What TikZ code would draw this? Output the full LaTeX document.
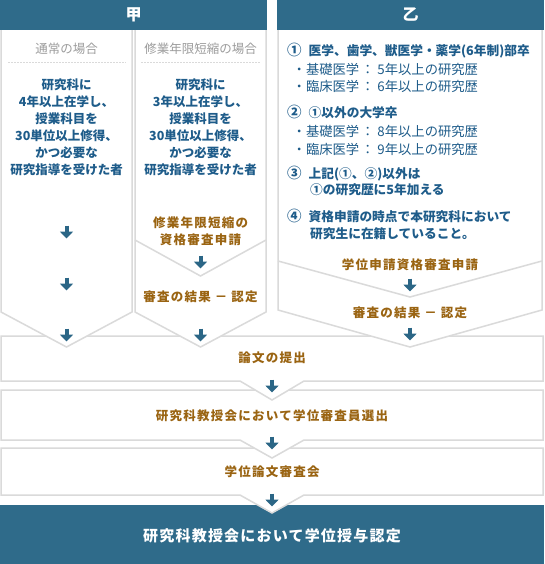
\documentclass[tikz,border=0pt]{standalone}
\usepackage{fontspec}
\setmainfont{Noto Sans CJK JP}
\newfontfamily\jpsp[LetterSpace=10]{Noto Sans CJK JP}
\newfontfamily\jpfin[LetterSpace=8]{Noto Sans CJK JP}
\usetikzlibrary{arrows.meta}
\definecolor{hdrteal}{HTML}{2F6B8A}
\definecolor{arrowteal}{HTML}{2B6686}
\definecolor{textblue}{HTML}{1E5C8A}
\definecolor{textbrown}{HTML}{9A6412}
\definecolor{bordergray}{HTML}{DADADA}
\definecolor{subgray}{HTML}{9C9C9C}
\newcommand\flowarr[3]{%
  \coordinate (#1s) at (#2,#3-6.5);
  \coordinate (#1e) at (#2,#3+6.5);
  \draw[flowarrow] (#1s) -- (#1e);}
\newcommand\circnum[1]{{\fontsize{14.5}{15}\selectfont #1}\hspace{7pt}}
\tikzset{
  panel/.style={fill=white, draw=bordergray, line width=1.5pt, line join=miter},
  innerline/.style={draw=bordergray, line width=1.5pt},
  subdash/.style={draw=bordergray, line width=0.8pt, dash pattern=on 1.5pt off 1.5pt},
  flowarrow/.style={draw=arrowteal, line width=4pt, -{Triangle[width=13pt,length=7pt]}},
  hdrtxt/.style={text=white, font=\fontsize{16}{18}\selectfont\bfseries},
  subtxt/.style={text=subgray, font=\fontsize{12.5}{15}\selectfont},
  bluetxt/.style={text=textblue, align=center, inner sep=0pt, font=\fontsize{12.5}{17}\selectfont\bfseries},
  headtxt/.style={text=textblue, inner sep=0pt, anchor=base west, font=\fontsize{12.7}{15}\selectfont\bfseries},
  bultxt/.style={text=textblue, inner sep=0pt, anchor=base west, font=\fontsize{13.3}{15}\selectfont},
  browntxt/.style={text=textbrown, align=center, inner sep=0pt, font=\jpsp\fontsize{12.5}{17}\selectfont\bfseries},
  fintxt/.style={text=white, inner sep=0pt, font=\jpfin\fontsize{15}{17}\selectfont\bfseries},
}
\begin{document}
\begin{tikzpicture}[x=1pt,y=-1pt]
\useasboundingbox (0,0) rectangle (544,564);
\fill[white] (0,0) rectangle (544,564);
% final box
\fill[hdrteal] (0,505) rectangle (544,564);
% stacked boxes (bottom to top)
\path[panel] (1,448) -- (543,448) -- (543,495) -- (304,495) -- (272,513) -- (240,495) -- (1,495) -- cycle;
\path[panel] (1,390) -- (543,390) -- (543,440) -- (304,440) -- (272,458) -- (240,440) -- (1,440) -- cycle;
\path[panel] (1,336) -- (543,336) -- (543,381) -- (304,381) -- (272,400) -- (240,381) -- (1,381) -- cycle;
% columns
\path[panel] (1,29) -- (1,312) -- (66.5,347) -- (132,312) -- (132,29);
\path[panel] (135,29) -- (135,312) -- (200.5,347) -- (266,312) -- (266,29);
\path[innerline] (135,240) -- (200.5,276) -- (266,240);
\path[panel] (278,29) -- (278,310) -- (410,347) -- (542,310) -- (542,29);
\path[innerline] (278,261) -- (410,297) -- (542,261);
% headers
\fill[hdrteal] (0,0) rectangle (267,30);
\fill[hdrteal] (277,0) rectangle (544,30);
\node[hdrtxt] (hko) at (133.5,15) {甲};
\node[hdrtxt] (hotsu) at (410.5,15) {乙};
% sub headers
\node[subtxt] (sub1) at (66.5,49) {通常の場合};
\node[subtxt] (sub2) at (200.5,49) {修業年限短縮の場合};
\draw[subdash] (8,62) -- (126,62);
\draw[subdash] (141,62) -- (261,62);
% column texts
\node[bluetxt] (c1) at (66.5,127.5) {研究科に\\4年以上在学し、\\授業科目を\\30単位以上修得、\\かつ必要な\\研究指導を受けた者};
\node[bluetxt] (c2) at (200.5,127.5) {研究科に\\3年以上在学し、\\授業科目を\\30単位以上修得、\\かつ必要な\\研究指導を受けた者};
\node[browntxt] (c2a) at (200.5,231.5) {修業年限短縮の\\資格審査申請};
\node[browntxt] (c2b) at (200.5,297) {審査の結果 － 認定};
% right column texts (baseline = visual centre + 0.38em)
\node[headtxt] (r1a) at (287,55.8) {\circnum{①}医学、歯学、獣医学・薬学(6年制)部卒};
\node[bultxt] (r1b) at (292.5,75) {・基礎医学\hspace{2pt}：\hspace{3pt}5年以上の研究歴};
\node[bultxt] (r1c) at (292.5,92) {・臨床医学\hspace{2pt}：\hspace{3pt}6年以上の研究歴};
\node[headtxt] (r2a) at (287,117.8) {\circnum{②}①以外の大学卒};
\node[bultxt] (r2b) at (292.5,137) {・基礎医学\hspace{2pt}：\hspace{3pt}8年以上の研究歴};
\node[bultxt] (r2c) at (292.5,154) {・臨床医学\hspace{2pt}：\hspace{3pt}9年以上の研究歴};
\node[headtxt] (r3a) at (287,178.8) {\circnum{③}上記(①、②)以外は};
\node[headtxt] (r3b) at (310,194.8) {①の研究歴に5年加える};
\node[headtxt] (r4a) at (287,221.8) {\circnum{④}資格申請の時点で本研究科において};
\node[headtxt] (r4b) at (310,238.8) {研究生に在籍していること。};
\node[browntxt] (ra) at (410,265) {学位申請資格審査申請};
\node[browntxt] (rb) at (410,313) {審査の結果 － 認定};
% lower texts
\node[browntxt] (t1) at (272,358) {論文の提出};
\node[browntxt] (t2) at (272,416) {研究科教授会において学位審査員選出};
\node[browntxt] (t3) at (272,472) {学位論文審査会};
\node[fintxt] (t4) at (272,536) {研究科教授会において学位授与認定};
% arrows
\flowarr{a1}{66.5}{232}
\flowarr{a2}{66.5}{284}
\flowarr{a3}{66.5}{335}
\flowarr{a4}{200.5}{262}
\flowarr{a5}{200.5}{335}
\flowarr{a6}{410}{285}
\flowarr{a7}{410}{334}
\flowarr{a8}{272}{386}
\flowarr{a9}{272}{443}
\flowarr{a10}{272}{500}
\end{tikzpicture}
\end{document}
